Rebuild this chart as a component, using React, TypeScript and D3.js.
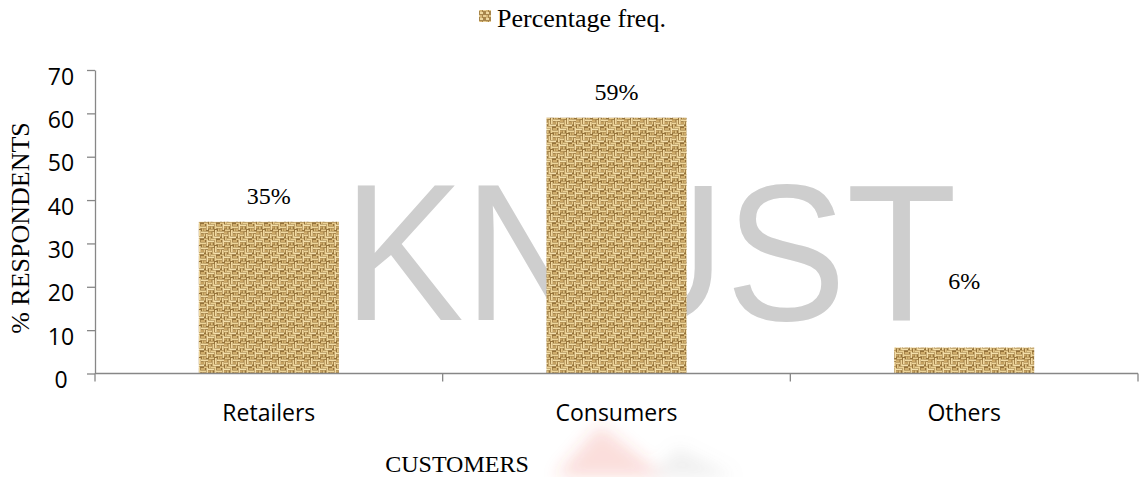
import React, { useEffect, useRef } from "react";
import * as d3 from "d3";

// Customer groups and the share of respondents in each
const categories = ["Retailers", "Consumers", "Others"];
const percentFreq = [35, 59, 6];
const valueLabels = ["35%", "59%", "6%"];
const yTickValues = [0, 10, 20, 30, 40, 50, 60, 70];
const seriesName = "Percentage freq.";
const xTitle = "CUSTOMERS";
const yTitle = "% RESPONDENTS";
const watermark = "KNUST";

const W = 1145;
const H = 477;
const plot = { left: 95, right: 1138, top: 70, bottom: 373.5 };
// how far above each bar top its value label sits
const labelLift = [18, 18, 58];

const SERIF = "'Liberation Serif', 'Times New Roman', serif";
const SANS = "'Open Sans', 'Liberation Sans', sans-serif";
const AXIS = "#878787";

// burlap weave tile (16x16): [x, y, w, h, colour]
const weave: [number, number, number, number, string][] = [
  // horizontal strands
  [0, 0.5, 6, 1.7, "#f4e0ab"],
  [8, 2.5, 6, 1.7, "#eed69b"],
  [1, 5.5, 5, 1.7, "#e8cc8f"],
  [9, 7.5, 7, 1.7, "#f2dba4"],
  [0, 10.5, 4, 1.7, "#efd69c"],
  [6, 12.5, 6, 1.7, "#f5e1ae"],
  [12, 14.5, 4, 1.5, "#e3c688"],
  [3, 14.5, 5, 1.5, "#ebd195"],
  // vertical strands
  [6.5, 0, 1.7, 5, "#ecd296"],
  [14.5, 0, 1.5, 6, "#f3dca6"],
  [3, 2.5, 1.7, 2.5, "#dcbe7c"],
  [7, 6, 1.7, 6, "#f2daa2"],
  [11.5, 9.5, 1.7, 3, "#e6c98a"],
  [4.5, 8, 1.7, 6, "#edd398"],
  [1, 12.5, 1.7, 3.5, "#e4c687"],
  [14, 10, 1.7, 4, "#f0d79e"],
  [10, 4.5, 1.5, 3, "#dabb79"],
  // mid-tone fill between strands
  [0, 7.5, 3.5, 2.5, "#cdaa69"],
  [9, 10, 2, 2, "#c7a260"],
  [12, 4.5, 2, 2.5, "#d0ad6c"],
  [0, 2.5, 2.5, 2, "#c9a564"],
  [9, 0, 4, 2, "#cfac6b"],
];

export default function App() {
  const yAxisRef = useRef<SVGGElement>(null);

  const x = d3
    .scaleBand<string>()
    .domain(categories)
    .range([plot.left, plot.right])
    .paddingInner(0.597)
    .paddingOuter(0.2985);
  const y = d3.scaleLinear().domain([0, 70]).range([plot.bottom, plot.top]);

  useEffect(() => {
    if (!yAxisRef.current) return;
    const g = d3.select(yAxisRef.current);
    g.selectAll("*").remove();
    g.call(
      d3
        .axisLeft(y)
        .tickValues(yTickValues)
        .tickSize(8)
        .tickSizeOuter(0)
        .tickFormat(d3.format("d"))
    );
    g.select(".domain").attr("stroke", AXIS).attr("stroke-width", 1.3);
    g.selectAll(".tick line").attr("stroke", AXIS).attr("stroke-width", 1.3);
    g.selectAll(".tick text")
      .attr("font-family", SANS)
      .attr("font-size", 23)
      .attr("fill", "#000")
      .attr("text-anchor", "middle")
      .attr("x", 61 - plot.left)
      .attr("dy", null)
      .attr("y", 14);
  }, []);

  const step = x.step();
  const gap = (step * x.paddingInner()) / 2;
  const boundaries = [
    plot.left,
    ...categories.map((c) => (x(c) as number) + x.bandwidth() + gap),
  ];

  return (
    <svg
      width={W}
      height={H}
      style={{ position: "absolute", left: 0, top: 0, background: "#fff" }}
    >
      <defs>
        <pattern id="burlap" patternUnits="userSpaceOnUse" width={16} height={16}>
          <rect width={16} height={16} fill="#957239" />
          {weave.map(([wx, wy, ww, wh, col], i) => (
            <rect key={i} x={wx} y={wy} width={ww} height={wh} fill={col} />
          ))}
        </pattern>
        <pattern id="burlapSmall" patternUnits="userSpaceOnUse" width={6} height={6}>
          <rect width={6} height={6} fill="#a8864c" />
          <rect x={0} y={0} width={3} height={2} fill="#efd9a2" />
          <rect x={3} y={3} width={3} height={2} fill="#e8cf94" />
          <rect x={0} y={3} width={2} height={3} fill="#d6b677" />
        </pattern>
        <filter id="soft" x="-50%" y="-50%" width="200%" height="200%">
          <feGaussianBlur stdDeviation={8} />
        </filter>
      </defs>

      {/* faint crest at the foot of the page */}
      <g filter="url(#soft)">
        <path d="M555,477 L600,425 L665,477 Z" fill="#e8453f" opacity={0.18} />
        <path d="M650,477 L678,448 L735,477 Z" fill="#9a9a9a" opacity={0.15} />
      </g>

      {/* watermark */}
      <text
        x={343}
        y={320}
        fontFamily="'Liberation Sans', Arial, sans-serif"
        fontSize={195}
        fill="#cecece"
        textLength={614}
        lengthAdjust="spacingAndGlyphs"
      >
        {watermark}
      </text>

      {/* legend */}
      <rect x={479} y={10} width={12} height={12} fill="url(#burlapSmall)" />
      <text x={497} y={27} fontFamily={SERIF} fontSize={26} fill="#000">
        {seriesName}
      </text>

      {/* bars */}
      {categories.map((c, i) => (
        <rect
          key={c}
          x={x(c)}
          y={y(percentFreq[i])}
          width={x.bandwidth()}
          height={y(0) - y(percentFreq[i])}
          fill="url(#burlap)"
        />
      ))}

      {/* value labels */}
      {categories.map((c, i) => (
        <text
          key={c}
          x={(x(c) as number) + x.bandwidth() / 2}
          y={y(percentFreq[i]) - labelLift[i]}
          textAnchor="middle"
          fontFamily={SERIF}
          fontSize={24}
          fill="#000"
        >
          {valueLabels[i]}
        </text>
      ))}

      {/* y axis */}
      <g ref={yAxisRef} transform={`translate(${plot.left},0)`} />

      {/* x axis */}
      <line
        x1={plot.left}
        x2={plot.right}
        y1={y(0)}
        y2={y(0)}
        stroke={AXIS}
        strokeWidth={1.3}
      />
      {boundaries.map((bx, i) => (
        <line
          key={i}
          x1={bx}
          x2={bx}
          y1={y(0)}
          y2={y(0) + 8}
          stroke={AXIS}
          strokeWidth={1.3}
        />
      ))}
      {categories.map((c) => (
        <text
          key={c}
          x={(x(c) as number) + x.bandwidth() / 2}
          y={421}
          textAnchor="middle"
          fontFamily={SANS}
          fontSize={23}
          fill="#000"
        >
          {c}
        </text>
      ))}

      {/* axis titles */}
      <text
        x={457}
        y={472}
        textAnchor="middle"
        fontFamily={SERIF}
        fontSize={24}
        fill="#000"
      >
        {xTitle}
      </text>
      <text
        transform={`translate(29,228) rotate(-90)`}
        textAnchor="middle"
        fontFamily={SERIF}
        fontSize={26}
        fill="#000"
      >
        {yTitle}
      </text>
    </svg>
  );
}
